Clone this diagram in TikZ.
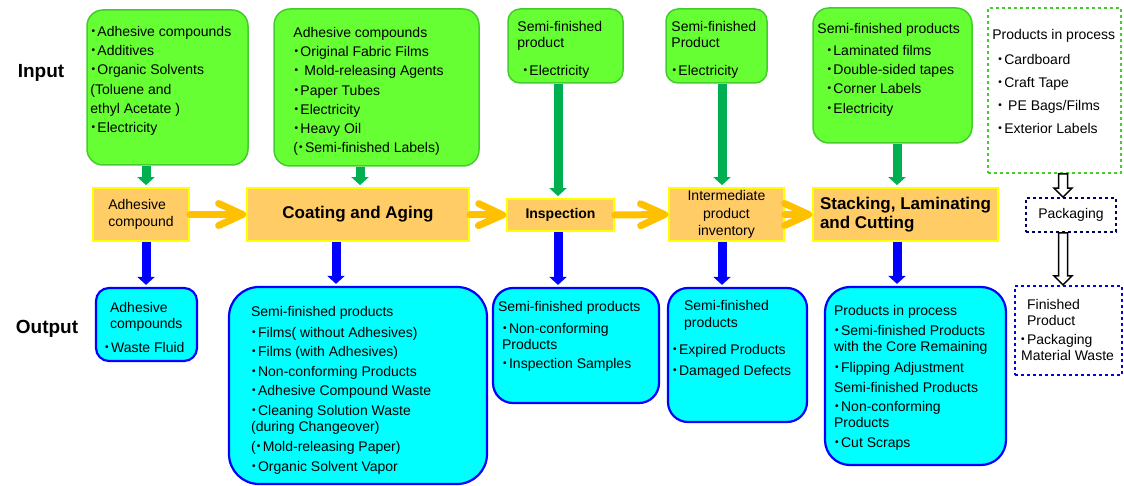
\documentclass[tikz,border=0pt]{standalone}
\usepackage{fontspec}
\setmainfont{Liberation Sans}
\newfontfamily\cjk{Noto Sans CJK JP}
\usepackage{tikz}
\usetikzlibrary{positioning,fit,calc,arrows.meta}
\definecolor{ingreen}{HTML}{66FF33}
\definecolor{inedge}{HTML}{44CC2C}
\definecolor{inarrow}{HTML}{00B050}
\definecolor{stepfill}{HTML}{FFCC66}
\definecolor{stepedge}{HTML}{FFFF00}
\definecolor{flowarrow}{HTML}{FFC000}
\definecolor{outcyan}{HTML}{00FFFF}
\definecolor{outedge}{HTML}{0000FF}
\definecolor{packnavy}{HTML}{000066}
\newcommand\bul{{\cjk\kern-.3em ・\kern-.2em}}
\newcommand\hollowarr[2]{%
  \draw[hollow] let \p1=(#1), \p2=(#2) in
    (\x1-4.5pt,\y1) -- (\x1-4.5pt,\y2+9pt) -- (\x1-9pt,\y2+9pt) -- (\x1,\y2)
    -- (\x1+9pt,\y2+9pt) -- (\x1+4.5pt,\y2+9pt) -- (\x1+4.5pt,\y1) -- cycle;}

\begin{document}
\begin{tikzpicture}[x=1pt,y=-1pt,
inbox/.style={draw=inedge,fill=ingreen,line width=1.5pt,rounded corners=16pt,inner sep=0pt},
stepbox/.style={draw=stepedge,fill=stepfill,line width=1.8pt,inner sep=0pt},
outbox/.style={draw=outedge,fill=outcyan,line width=2.2pt,rounded corners=20pt,inner sep=0pt},
listtxt/.style={inner sep=0pt,align=left,font=\fontsize{14}{19.2}\selectfont},
steptxt/.style={font=\fontsize{14}{17.5}\selectfont},
bigtxt/.style={font=\fontsize{17}{19.5}\selectfont\bfseries},
side/.style={font=\fontsize{19}{22}\selectfont\bfseries},
inarr/.style={inarrow,line width=9pt,-{Triangle[length=8pt,width=17pt]},shorten >=2pt},
outarr/.style={outedge,line width=9pt,-{Triangle[length=8pt,width=17pt]},shorten >=2pt},
flow/.style={flowarrow,line width=7pt,line cap=round,-{Straight Barb[round,length=24pt,width=22pt]}},
hollow/.style={draw=black,fill=white,line width=1.5pt}
]
\useasboundingbox (0,0) rectangle (1124,486);

\node[side] (input) at (41,73) {Input};
\node[side] (output) at (47,329) {Output};

% input boxes
\node[inbox,fit={(87,10) (248,165)}] (g1) {};
\node[listtxt, below right=17pt and 4pt of g1.north west] (g1t) {%
\bul Adhesive compounds\\
\bul Additives\\
\bul Organic Solvents\\
(Toluene and\\
ethyl Acetate~)\\
\bul Electricity};

\node[inbox,fit={(274,9) (479,166)}] (g2) {};
\node[listtxt, below right=19pt and 20pt of g2.north west] (g2t) {%
Adhesive compounds\\
\bul Original Fabric Films\\
\bul\ Mold-releasing Agents\\
\bul Paper Tubes\\
\bul Electricity\\
\bul Heavy Oil\\
(\bul Semi-finished Labels)};

\node[inbox,rounded corners=12pt,fit={(508,9) (623,83)}] (g3) {};
\node[listtxt,font=\fontsize{14}{16}\selectfont, below right=13pt and 10pt of g3.north west] (g3t) {%
Semi-finished\\
product\\[12pt]
\hspace*{5pt}\bul Electricity};

\node[inbox,rounded corners=12pt,fit={(666,9) (767,83)}] (g4) {};
\node[listtxt,font=\fontsize{14}{16}\selectfont, below right=13pt and 6pt of g4.north west] (g4t) {%
Semi-finished\\
Product\\[12pt]
\bul Electricity};

\node[inbox,fit={(813,8) (972,143)}] (g5) {};
\node[listtxt, below right=16pt and 5pt of g5.north west] (g5t) {%
Semi-finished products\\[2.8pt]
\hspace*{9pt}\bul Laminated films\\
\hspace*{9pt}\bul Double-sided tapes\\
\hspace*{9pt}\bul Corner Labels\\
\hspace*{9pt}\bul Electricity};

\node[draw=inedge,line width=1.8pt,dashed,inner sep=0pt,fit={(988,8) (1121,173)}] (pin) {};
\node[listtxt,font=\fontsize{14}{23}\selectfont, below right=22pt and 5pt of pin.north west] (pint) {%
Products in process\\[2pt]
\hspace*{5pt}\bul Cardboard\\
\hspace*{5pt}\bul Craft Tape\\
\hspace*{5pt}\bul\ PE Bags/Films\\
\hspace*{5pt}\bul Exterior Labels};

% process steps
\node[stepbox,steptxt,align=left,minimum width=96pt,minimum height=53pt] (o1) at (141,214.5) {Adhesive\\compound};
\node[stepbox,bigtxt,minimum width=222pt,minimum height=53pt] (o2) at (358,214.5) {Coating and Aging};
\node[stepbox,font=\fontsize{14}{17}\selectfont\bfseries,minimum width=107pt,minimum height=32pt] (o3) at (560.5,215) {Inspection};
\node[stepbox,steptxt,align=center,minimum width=115pt,minimum height=53pt] (o4) at (726.5,214.5) {Intermediate\\product\\inventory};
\node[stepbox,bigtxt,align=left,minimum width=185pt,minimum height=53pt] (o5) at (905.5,214.5) {Stacking, Laminating\\and Cutting};
\node[draw=packnavy,line width=1.8pt,dashed,inner sep=0pt,font=\fontsize{14}{16}\selectfont,
  minimum width=90pt,minimum height=34pt] (pk) at (1071,215) {Packaging};

% output boxes
\node[outbox,rounded corners=13pt,fit={(96,288) (197,361)}] (c1) {};
\node[listtxt,font=\fontsize{14}{16}\selectfont, below right=15pt and 9pt of c1.north west] (c1t) {%
\hspace*{6pt}Adhesive\\
\hspace*{6pt}compounds\\[8pt]
\bul Waste Fluid};

\node[outbox,rounded corners=30pt,fit={(229,287) (487,484)}] (c2) {};
\node[listtxt,font=\fontsize{14}{19.5}\selectfont, below right=20pt and 23pt of c2.north west] (c2t) {%
Semi-finished products\\[1.5pt]
\bul Films( without Adhesives)\\
\bul Films (with Adhesives)\\
\bul Non-conforming Products\\
\bul Adhesive Compound Waste\\
\bul Cleaning Solution Waste\\[-3pt]
(during Changeover)\\[0.5pt]
(\bul Mold-releasing Paper)\\[0.5pt]
\bul Organic Solvent Vapor};

\node[outbox,fit={(493,288) (659,403)}] (c3) {};
\node[listtxt,font=\fontsize{14}{16}\selectfont, below right=14pt and 6pt of c3.north west] (c3t) {%
Semi-finished products\\[6pt]
\hspace*{4pt}\bul Non-conforming\\
\hspace*{4pt}Products\\[3pt]
\hspace*{4pt}\bul Inspection Samples};

\node[outbox,fit={(668,288) (807,422)}] (c4) {};
\node[listtxt,font=\fontsize{14}{17}\selectfont, below right=13pt and 5pt of c4.north west] (c4t) {%
\hspace*{12pt}Semi-finished\\
\hspace*{12pt}products\\[10pt]
\bul Expired Products\\[4pt]
\bul Damaged Defects};

\node[outbox,rounded corners=25pt,fit={(825,287) (1006,465)}] (c5) {};
\node[listtxt,font=\fontsize{14}{16}\selectfont, below right=19pt and 10pt of c5.north west] (c5t) {%
Products in process\\[4pt]
\bul Semi-finished Products\\
with the Core Remaining\\[5pt]
\bul Flipping Adjustment\\[4pt]
Semi-finished Products\\[3pt]
\bul Non-conforming\\
Products\\[4pt]
\bul Cut Scraps};

\node[draw=outedge,line width=2.2pt,dashed,inner sep=0pt,fit={(1015,286) (1122,375)}] (fin) {};
\node[listtxt,font=\fontsize{14}{16}\selectfont, below right=14pt and 6pt of fin.north west] (fint) {%
\hspace*{7pt}Finished\\
\hspace*{7pt}Product\\[3pt]
\bul Packaging\\
\hspace*{1pt}Material Waste};

% connectors
\draw[inarr] ([xshift=-21.5pt]g1.south) -- ([xshift=-21.5pt]g1.south |- o1.north);
\draw[inarr] ([xshift=-16.5pt]g2.south) -- ([xshift=-16.5pt]g2.south |- o2.north);
\draw[inarr] ([xshift=-7.5pt]g3.south) -- ([xshift=-7.5pt]g3.south |- o3.north);
\draw[inarr] ([xshift=5.5pt]g4.south) -- ([xshift=5.5pt]g4.south |- o4.north);
\draw[inarr] ([xshift=4.5pt]g5.south) -- ([xshift=4.5pt]g5.south |- o5.north);

\draw[outarr] ([xshift=5pt]o1.south) -- ([xshift=5pt]o1.south |- c1.north);
\draw[outarr] ([xshift=-22pt]o2.south) -- ([xshift=-22pt]o2.south |- c2.north);
\draw[outarr] ([xshift=-2.5pt]o3.south) -- ([xshift=-2.5pt]o3.south |- c3.north);
\draw[outarr] ([xshift=-4.5pt]o4.south) -- ([xshift=-4.5pt]o4.south |- c4.north);
\draw[outarr] ([xshift=-8.5pt]o5.south) -- ([xshift=-8.5pt]o5.south |- c5.north);

\draw[flow] (o1.east) -- (o2.west);
\draw[flow] (o2.east) -- (o3.west);
\draw[flow] (o3.east) -- (o4.west);
\draw[flow] (o4.east) -- (o5.west);

\coordinate (hx) at (1063,0);
\hollowarr{pin.south -| hx}{pk.north -| hx}
\hollowarr{pk.south -| hx}{fin.north -| hx}
\end{tikzpicture}
\end{document}
